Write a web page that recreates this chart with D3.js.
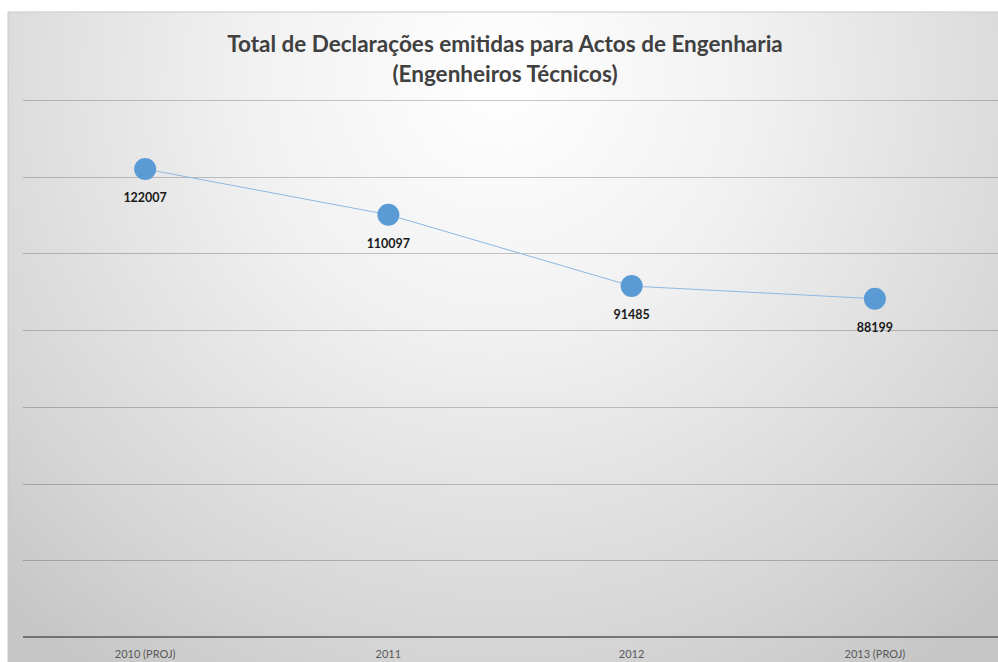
<!DOCTYPE html>
<html><head><meta charset="utf-8">
<script src="https://cdn.jsdelivr.net/npm/d3@7"></script>
<style>html,body{margin:0;padding:0;background:#fff;overflow:hidden}</style>
</head><body>
<svg id="chart" width="998" height="662"></svg>
<script>
const categories = ["2010 (PROJ)", "2011", "2012", "2013 (PROJ)"];
const values = [122007, 110097, 91485, 88199];
const gridTicks = [0, 20000, 40000, 60000, 80000, 100000, 120000, 140000];
const titleLines = ["Total de Declarações emitidas para Actos de Engenharia", "(Engenheiros Técnicos)"];

const svg = d3.select("#chart");
const W = 998, H = 662;
const defs = svg.append("defs");
const rg = defs.append("radialGradient").attr("id","bg")
  .attr("gradientUnits","userSpaceOnUse")
  .attr("cx",500).attr("cy",80).attr("r",720).attr("fx",500).attr("fy",80);
rg.append("stop").attr("offset","0").attr("stop-color","#ffffff");
rg.append("stop").attr("offset","0.35").attr("stop-color","#f1f1f1");
rg.append("stop").attr("offset","0.8").attr("stop-color","#d5d5d5");
rg.append("stop").attr("offset","1").attr("stop-color","#c6c6c6");

svg.append("rect").attr("x",8).attr("y",12).attr("width",W).attr("height",H)
  .attr("fill","url(#bg)").attr("stroke","#c8c8c8").attr("stroke-width",1);

const x = d3.scaleBand().domain(categories).range([23.5, 996.5]);
const y = d3.scaleLinear().domain([0,140000]).range([637,100]);

// gridlines
svg.append("g").selectAll("line").data(gridTicks.filter(d=>d>0)).join("line")
  .attr("x1",23).attr("x2",W).attr("y1",d=>Math.round(y(d))+0.5).attr("y2",d=>Math.round(y(d))+0.5)
  .attr("stroke","#000").attr("stroke-opacity",0.21).attr("stroke-width",1.2);

// baseline axis
const xAxis = d3.axisBottom(x).tickSize(0).tickPadding(13);
const ax = svg.append("g").attr("transform",`translate(0,${Math.round(y(0))})`).call(xAxis);
ax.select(".domain").attr("d",`M23,0H${W}`).attr("stroke","#555").attr("stroke-width",1.6);
ax.selectAll("text").attr("font-family","Lato, 'Open Sans', sans-serif").attr("font-size",11)
  .attr("fill","#595959");

// line
const cx = d => x(d) + x.bandwidth()/2;
const line = d3.line().x((d,i)=>cx(categories[i])).y(d=>y(d));
svg.append("path").datum(values).attr("d",line).attr("fill","none")
  .attr("stroke","#8fb8e0").attr("stroke-width",1);

svg.append("g").selectAll("circle").data(values).join("circle")
  .attr("cx",(d,i)=>cx(categories[i])).attr("cy",d=>y(d)).attr("r",11)
  .attr("fill","#5b9bd5");

svg.append("g").selectAll("text").data(values).join("text")
  .attr("x",(d,i)=>cx(categories[i])).attr("y",d=>y(d)+33)
  .attr("text-anchor","middle").attr("font-family","Lato, 'Open Sans', sans-serif")
  .attr("font-weight","bold").attr("font-size",12.5).attr("fill","#1a1a1a")
  .text(d=>d);

// title
svg.append("g").selectAll("text").data(titleLines).join("text")
  .attr("x",505).attr("y",(d,i)=>52+i*30).attr("text-anchor","middle")
  .attr("font-family","Lato, 'Open Sans', sans-serif").attr("font-weight","bold")
  .attr("font-size",22.5).attr("fill","#404040").text(d=>d);
</script>
</body></html>
